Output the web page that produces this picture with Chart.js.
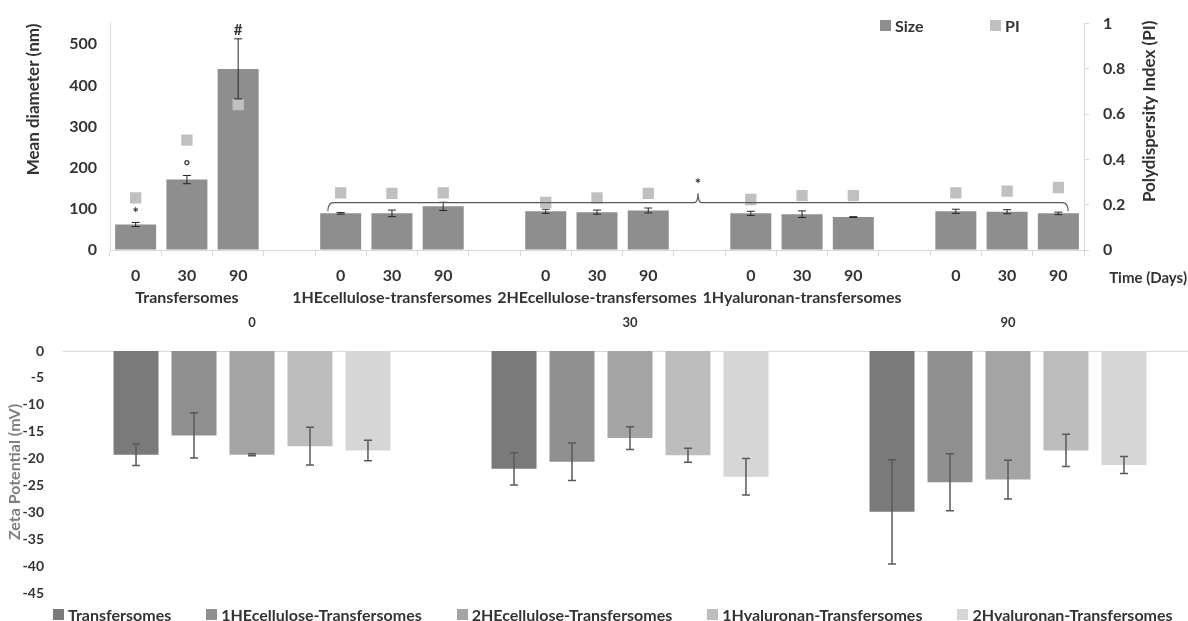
<!DOCTYPE html>
<html>
<head>
<meta charset="utf-8">
<script src="https://cdn.jsdelivr.net/npm/chart.js@4.4.1/dist/chart.umd.min.js"></script>
<style>
  html, body { margin: 0; padding: 0; background: #fff; overflow: hidden; }
  body { width: 1188px; height: 621px; position: relative; font-family: Lato, "Open Sans", sans-serif; }
  #topWrap { position: absolute; left: 0; top: 0; width: 1188px; height: 310px; }
  #bottomWrap { position: absolute; left: 0; top: 310px; width: 1230px; height: 311px; }
  .legend { position: absolute; display: flex; align-items: center; font: bold 16px Lato, sans-serif; color: #333; white-space: nowrap; }
  .legend .item { display: flex; align-items: center; }
  .legend .box { display: inline-block; width: 11px; height: 11px; margin-right: 4px; }
</style>
</head>
<body>
<div id="topWrap"><canvas id="topChart" width="1188" height="310"></canvas></div>
<div id="bottomWrap"><canvas id="bottomChart" width="1230" height="311"></canvas></div>
<div class="legend" id="topLegend" style="left:880px; top:16px; height:18px;"></div>
<div class="legend" id="bottomLegend" style="left:53px; top:605px; height:18px; gap:35px;"></div>

<script>
// ---- top panel: size (bars, left axis) and PI (squares, right axis) ----
const dayLabels = ["0", "30", "90"];
const groupNames = [
    "Transfersomes",
    "1HEcellulose-transfersomes",
    "2HEcellulose-transfersomes",
    "1Hyaluronan-transfersomes",
    "",
];
// 19 slots: 5 groups of 3 days with an empty slot between groups
const sizeMean = [62, 171, 440, null, 89, 89, 106, null, 94, 92, 96, null, 89, 87, 80, null, 94, 93, 89];
const sizeErr = [5, 10, 73, null, 2, 8, 10, null, 5, 5, 6, null, 5, 8, 1, null, 5, 5, 3];
const piValues = [0.23, 0.485, 0.642, null, 0.252, 0.25, 0.252, null, 0.21, 0.23, 0.25, null, 0.223, 0.24, 0.24, null, 0.252, 0.26, 0.276];
const sizeMarks = ["*", "°", "#"];
const sizeTicksMax = 500;

// ---- bottom panel: zeta potential ----
const zetaDays = ["0", "30", "90"];
const zetaSeries = [
    "Transfersomes",
    "1HEcellulose-Transfersomes",
    "2HEcellulose-Transfersomes",
    "1Hyaluronan-Transfersomes",
    "2Hyaluronan-Transfersomes",
];
const zetaTransfersomes = [-19.3, -21.9, -29.9];
const zeta1HEcellulose = [-15.7, -20.6, -24.4];
const zeta2HEcellulose = [-19.3, -16.2, -23.9];
const zeta1Hyaluronan = [-17.7, -19.4, -18.5];
const zeta2Hyaluronan = [-18.5, -23.4, -21.2];
const errTransfersomes = [2.0, 3.0, 9.7];
const err1HEcellulose = [4.2, 3.5, 5.3];
const err2HEcellulose = [0.2, 2.1, 3.6];
const err1Hyaluronan = [3.5, 1.3, 3.0];
const err2Hyaluronan = [1.9, 3.4, 1.6];

const SIZE_GREY = "#8e8e8e";
const PI_GREY = "#c0c0c0";
const ZETA_GREYS = ["#7a7a7a", "#8f8f8f", "#a4a4a4", "#bdbdbd", "#d6d6d6"];
const AXIS_GREY = "#d9d9d9";
const TEXT = "#333333";

Chart.defaults.font.family = "Lato, 'Open Sans', sans-serif";
Chart.defaults.color = TEXT;

// category labels: day on first line, group name under the middle day
const topLabels = [];
groupNames.forEach((g, gi) => {
    if (gi > 0) topLabels.push("");
    dayLabels.forEach((d, di) => topLabels.push([d, di === 1 ? g : ""]));
});

function drawErrorBar(ctx, x, yTop, yBot, half) {
    ctx.beginPath();
    ctx.moveTo(x, yTop); ctx.lineTo(x, yBot);
    ctx.moveTo(x - half, yTop); ctx.lineTo(x + half, yTop);
    ctx.moveTo(x - half, yBot); ctx.lineTo(x + half, yBot);
    ctx.stroke();
}

const topExtras = {
    id: "topExtras",
    afterDatasetsDraw(chart) {
        const { ctx, chartArea, scales: { x, y } } = chart;
        const bars = chart.getDatasetMeta(0).data;
        ctx.save();
        ctx.strokeStyle = "#262626";
        ctx.lineWidth = 1;
        bars.forEach((bar, i) => {
            if (sizeMean[i] == null) return;
            drawErrorBar(ctx, bar.x,
                y.getPixelForValue(sizeMean[i] + sizeErr[i]),
                y.getPixelForValue(sizeMean[i] - sizeErr[i]), 4);
        });

        // significance marks over the plain transfersomes bars
        ctx.fillStyle = TEXT;
        ctx.textAlign = "center";
        ctx.textBaseline = "alphabetic";
        ctx.font = "bold 15px Lato";
        sizeMarks.forEach((m, i) => {
            ctx.fillText(m, bars[i].x, y.getPixelForValue(sizeMean[i] + sizeErr[i]) - 4);
        });

        // bracket across the coated formulations
        const cw = x.getPixelForValue(1) - x.getPixelForValue(0);
        const bx0 = x.getPixelForValue(4) - 0.25 * cw;
        const bx1 = x.getPixelForValue(18) + 0.19 * cw;
        const mid = (bx0 + bx1) / 2;
        const yTop = y.getPixelForValue(115);
        const yEnd = y.getPixelForValue(94);
        const yPeak = y.getPixelForValue(138);
        ctx.strokeStyle = "#595959";
        ctx.lineWidth = 1.2;
        ctx.beginPath();
        ctx.moveTo(bx0, yEnd);
        ctx.quadraticCurveTo(bx0, yTop, bx0 + 6, yTop);
        ctx.lineTo(mid - 4, yTop);
        ctx.quadraticCurveTo(mid, yTop, mid, yPeak);
        ctx.quadraticCurveTo(mid, yTop, mid + 4, yTop);
        ctx.lineTo(bx1 - 6, yTop);
        ctx.quadraticCurveTo(bx1, yTop, bx1, yEnd);
        ctx.stroke();
        ctx.fillText("*", mid, yPeak - 4);

        // x axis caption sits to the right of the axis
        ctx.font = "bold 15px Lato";
        ctx.textAlign = "right";
        ctx.textBaseline = "middle";
        ctx.fillText("Time (Days)", chart.width - 1, chartArea.bottom + 28);

        // right axis title reads bottom-to-top like the left one
        ctx.font = "bold 17px Lato";
        ctx.translate(chartArea.right + 66, chartArea.top - 3);
        ctx.rotate(-Math.PI / 2);
        ctx.textAlign = "right";
        ctx.fillText("Polydispersity Index (PI)", 0, 0);
        ctx.restore();
    },
};

const tickFont = { size: 16, weight: "bold" };

new Chart(document.getElementById("topChart"), {
    type: "bar",
    data: {
        labels: topLabels,
        datasets: [
            {
                type: "bar",
                label: "Size",
                data: sizeMean,
                backgroundColor: SIZE_GREY,
                barPercentage: 0.8,
                categoryPercentage: 1.0,
                yAxisID: "y",
                order: 2,
            },
            {
                type: "line",
                label: "PI",
                data: piValues,
                yAxisID: "y1",
                showLine: false,
                pointStyle: "rect",
                pointRadius: 8,
                pointBorderWidth: 0,
                pointBackgroundColor: PI_GREY,
                order: 1,
            },
        ],
    },
    options: {
        responsive: false,
        animation: false,
        layout: { padding: { left: 20, right: 24, top: 23, bottom: 0 } },
        plugins: { legend: { display: false }, tooltip: { enabled: false } },
        scales: {
            x: {
                offset: true,
                grid: { offset: true, drawOnChartArea: false, tickLength: 6, color: AXIS_GREY },
                border: { color: AXIS_GREY },
                ticks: {
                    autoSkip: false, maxRotation: 0, minRotation: 0, padding: 9,
                    font: { size: 16, weight: "bold", lineHeight: "22px" },
                },
                afterFit: (s) => { s.height = 60; },
            },
            y: {
                position: "left",
                min: 0,
                max: 550,
                ticks: { stepSize: 100, padding: 13, font: tickFont },
                afterBuildTicks: (s) => { s.ticks = s.ticks.filter((t) => t.value <= sizeTicksMax); },
                grid: { drawOnChartArea: false, drawTicks: false },
                border: { color: AXIS_GREY },
                title: {
                    display: true, text: "Mean diameter (nm)", align: "end",
                    font: { size: 17, weight: "bold" }, padding: { top: 3, bottom: 0 },
                },
                afterFit: (s) => { s.width = 90; },
            },
            y1: {
                position: "right",
                min: 0,
                max: 1,
                ticks: {
                    stepSize: 0.2, padding: 14, font: tickFont,
                    callback: (v) => String(+Number(v).toFixed(1)),
                },
                grid: { drawOnChartArea: false, tickLength: 5, color: AXIS_GREY },
                border: { color: AXIS_GREY },
                afterFit: (s) => { s.width = 80; },
            },
        },
    },
    plugins: [topExtras],
});

const zetaMeans = [zetaTransfersomes, zeta1HEcellulose, zeta2HEcellulose, zeta1Hyaluronan, zeta2Hyaluronan];
const zetaErrs = [errTransfersomes, err1HEcellulose, err2HEcellulose, err1Hyaluronan, err2Hyaluronan];

const zetaErrorBars = {
    id: "zetaErrorBars",
    afterDatasetsDraw(chart) {
        const { ctx, scales: { y } } = chart;
        ctx.save();
        ctx.strokeStyle = "#595959";
        ctx.lineWidth = 1.5;
        zetaMeans.forEach((vals, di) => {
            chart.getDatasetMeta(di).data.forEach((bar, i) => {
                drawErrorBar(ctx, bar.x,
                    y.getPixelForValue(vals[i] + zetaErrs[di][i]),
                    y.getPixelForValue(vals[i] - zetaErrs[di][i]), 4);
            });
        });
        ctx.restore();
    },
};

new Chart(document.getElementById("bottomChart"), {
    type: "bar",
    data: {
        labels: zetaDays,
        datasets: zetaSeries.map((name, i) => ({
            label: name,
            data: zetaMeans[i],
            backgroundColor: ZETA_GREYS[i],
            barPercentage: 0.776,
            categoryPercentage: 0.767,
        })),
    },
    options: {
        responsive: false,
        animation: false,
        layout: { padding: { left: 0, right: 33, top: 0, bottom: 28 } },
        plugins: { legend: { display: false }, tooltip: { enabled: false } },
        scales: {
            x: {
                position: "top",
                offset: true,
                grid: { display: false },
                border: { color: AXIS_GREY },
                ticks: { padding: 12, font: { size: 13, weight: "bold" } },
                afterFit: (s) => { s.height = 41; },
            },
            y: {
                min: -45,
                max: 0,
                ticks: { stepSize: 5, padding: 11, font: { size: 14, weight: "bold" } },
                grid: { display: false },
                border: { display: false },
                title: {
                    display: true, text: "Zeta Potential (mV)", color: "#7f7f7f",
                    font: { size: 16, weight: "bold" }, padding: { top: 5, bottom: 0 },
                },
                afterFit: (s) => { s.width = 63; },
            },
        },
    },
    plugins: [zetaErrorBars],
});

// html legends
function addLegendItem(host, text, color, left) {
    const item = document.createElement("div");
    item.className = "item";
    if (left != null) {
        item.style.position = "absolute";
        item.style.left = left + "px";
    }
    const box = document.createElement("span");
    box.className = "box";
    box.style.background = color;
    item.appendChild(box);
    item.appendChild(document.createTextNode(text));
    host.appendChild(item);
}
const topLegend = document.getElementById("topLegend");
addLegendItem(topLegend, "Size", SIZE_GREY, 0);
addLegendItem(topLegend, "PI", PI_GREY, 110);
const bottomLegend = document.getElementById("bottomLegend");
zetaSeries.forEach((name, i) => addLegendItem(bottomLegend, name, ZETA_GREYS[i]));
</script>
</body>
</html>
